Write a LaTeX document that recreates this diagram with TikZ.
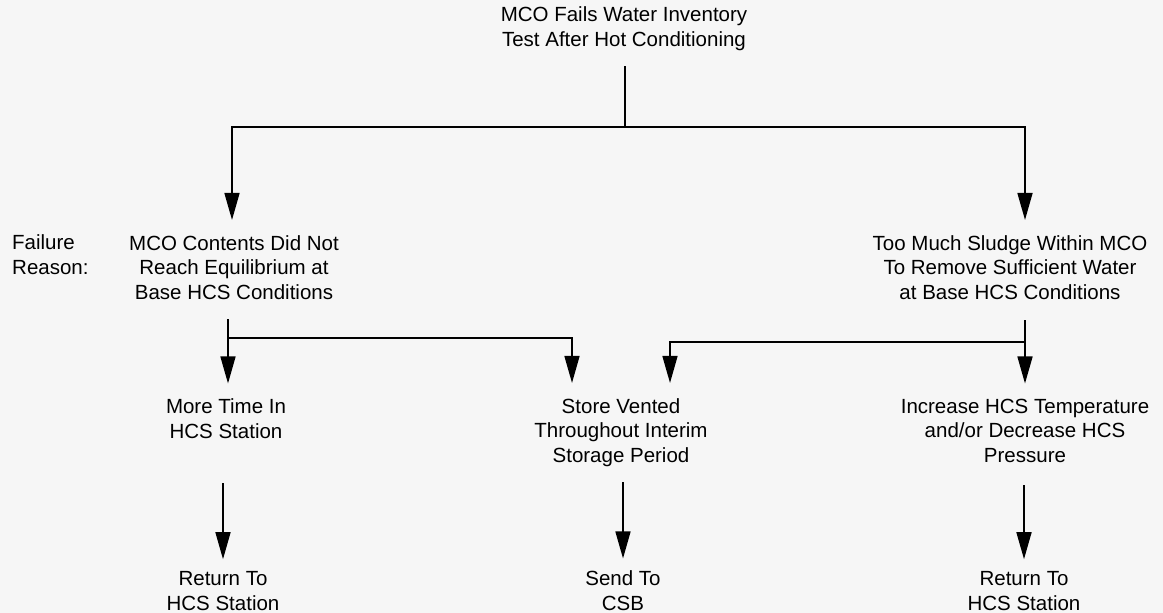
\documentclass[tikz,border=0pt]{standalone}
\usepackage{fontspec}
\setmainfont{Liberation Sans}
\usetikzlibrary{arrows.meta}
\definecolor{paper}{HTML}{F6F6F6}
\tikzset{
  lbl/.style={align=center, inner sep=0pt, anchor=base,
    font=\fontsize{20.5}{24.5}\selectfont},
  link/.style={line width=1.6pt, draw=black},
  arr/.style={link, -{Triangle[length=27pt,width=15pt]}},
}
\begin{document}
\begin{tikzpicture}[x=1pt,y=-1pt]
\fill[paper] (0,0) rectangle (1163,613);
\useasboundingbox (0,0) rectangle (1163,613);

% outcome and its two failure reasons (anchored at the last baseline)
\node[lbl] (top) at (624,46) {MCO Fails Water Inventory\\Test After Hot Conditioning};
\node[lbl, align=left, anchor=base west] (why) at (12,274) {Failure\\Reason:};
\node[lbl] (eqm) at (234,299) {MCO Contents Did Not\\Reach Equilibrium at\\Base HCS Conditions};
\node[lbl] (sludge) at (1010,299) {Too Much Sludge Within MCO\\To Remove Sufficient Water\\at Base HCS Conditions};

% remedies
\node[lbl] (time) at (226,438) {More Time In\\HCS Station};
\node[lbl] (vent) at (621,462) {Store Vented\\Throughout Interim\\Storage Period};
\node[lbl] (temp) at (1025,462) {Increase HCS Temperature\\and/or Decrease HCS\\Pressure};

% dispositions
\node[lbl] (ret1) at (223,610) {Return To\\HCS Station};
\node[lbl] (csb) at (623,610) {Send To\\CSB};
\node[lbl] (ret2) at (1024,610) {Return To\\HCS Station};

% junction points of the elbow connectors
\coordinate (hub) at (625,127);
\coordinate (jl) at (228,338);
\coordinate (jr) at (1025,342);

% top split
\draw[link, shorten <=16pt] (top.south -| hub) -- (hub);
\draw[arr, shorten >=15pt] (hub) -| ([xshift=-2pt]eqm.north);
\draw[arr, shorten >=15pt] (hub) -| ([xshift=15pt]sludge.north);

% equilibrium branch
\draw[arr, shorten <=20pt, shorten >=15pt] (eqm.south -| jl) -- (time.north -| jl);
\draw[arr, shorten >=15pt] (jl) -| ([xshift=-49pt]vent.north);

% sludge branch
\draw[arr, shorten <=21pt, shorten >=15pt] (sludge.south -| jr) -- (temp.north -| jr);
\draw[arr, shorten >=15pt] (jr) -| ([xshift=49pt]vent.north);

% final dispositions
\draw[arr, shorten <=45pt, shorten >=12pt] (ret1.north |- time.south) -- (ret1.north);
\draw[arr, shorten <=16pt, shorten >=12pt] (csb.north |- vent.south) -- (csb.north);
\draw[arr, shorten <=23pt, shorten >=12pt] (ret2.north |- temp.south) -- (ret2.north);
\end{tikzpicture}
\end{document}
